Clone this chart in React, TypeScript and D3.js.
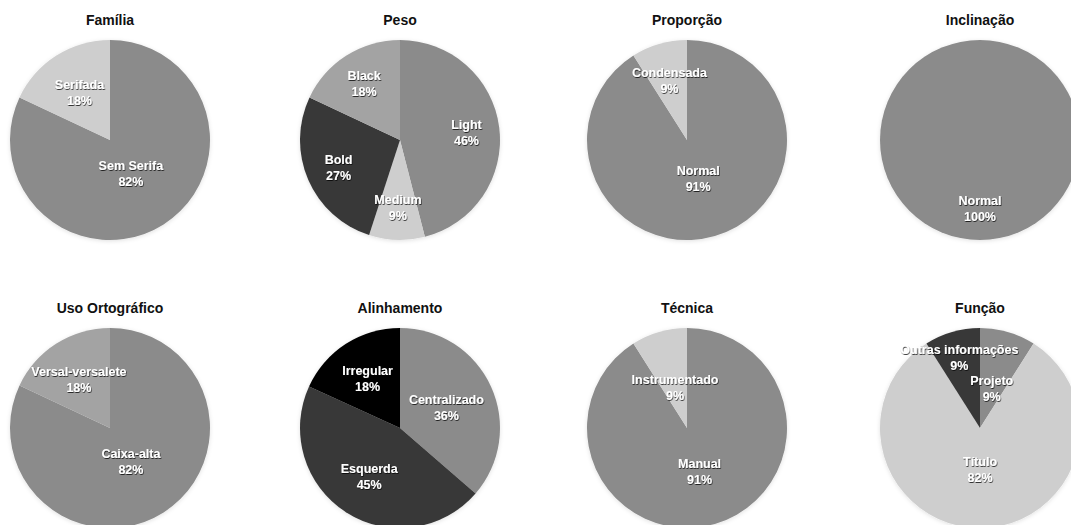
import React from "react";
import * as d3 from "d3";

// ---- Data ----
const familiaLabels = ["Sem Serifa", "Serifada"];
const familiaValues = [82, 18];

const pesoLabels = ["Light", "Medium", "Bold", "Black"];
const pesoValues = [46, 9, 27, 18];

const proporcaoLabels = ["Normal", "Condensada"];
const proporcaoValues = [91, 9];

const inclinacaoLabels = ["Normal"];
const inclinacaoValues = [100];

const usoLabels = ["Caixa-alta", "Versal-versalete"];
const usoValues = [82, 18];

const alinhamentoLabels = ["Centralizado", "Esquerda", "Irregular"];
const alinhamentoValues = [36, 45, 18];

const tecnicaLabels = ["Manual", "Instrumentado"];
const tecnicaValues = [91, 9];

const funcaoLabels = ["Projeto", "Título", "Outras informações"];
const funcaoValues = [9, 82, 9];

const titles = [
  "Família",
  "Peso",
  "Proporção",
  "Inclinação",
  "Uso Ortográfico",
  "Alinhamento",
  "Técnica",
  "Função",
];

// ---- Styles / layout ----
const MID = "#8b8b8b";
const LIGHT = "#cecece";
const SOFT = "#a3a3a3";
const DARK = "#383838";
const BLACK = "#050505";

const chartColors = [
  [MID, LIGHT],
  [MID, LIGHT, DARK, SOFT],
  [MID, LIGHT],
  [MID],
  [MID, SOFT],
  [MID, DARK, BLACK],
  [MID, LIGHT],
  [MID, LIGHT, DARK],
];

const labelRadiusFrac = [
  [0.39, 0.57],
  [0.67, 0.67, 0.67, 0.67],
  [0.4, 0.63],
  [0.68],
  [0.39, 0.58],
  [0.51, 0.57, 0.6],
  [0.45, 0.43],
  [0.42, 0.41, 0.74],
];

const W = 1071;
const H = 525;
const R = 100;
const colX = [110, 400, 687, 980];
const rowY = [140, 428];

const datasets = [
  { labels: familiaLabels, values: familiaValues },
  { labels: pesoLabels, values: pesoValues },
  { labels: proporcaoLabels, values: proporcaoValues },
  { labels: inclinacaoLabels, values: inclinacaoValues },
  { labels: usoLabels, values: usoValues },
  { labels: alinhamentoLabels, values: alinhamentoValues },
  { labels: tecnicaLabels, values: tecnicaValues },
  { labels: funcaoLabels, values: funcaoValues },
];

const FONT = "'Liberation Sans', Arial, Helvetica, sans-serif";

function Pie({ idx }: { idx: number }) {
  const ds = datasets[idx];
  const cx = colX[idx % 4];
  const cy = rowY[Math.floor(idx / 4)];
  const items = ds.labels.map((l, i) => ({ label: l, value: ds.values[i], i }));
  const pie = d3
    .pie<any>()
    .value((d) => d.value)
    .sort(null)
    .startAngle(0)
    .endAngle(2 * Math.PI);
  const arcs = pie(items);
  const arc = d3.arc<any>().innerRadius(0).outerRadius(R);
  return (
    <g>
      <text
        x={cx}
        y={cy - R - 15}
        textAnchor="middle"
        fontFamily={FONT}
        fontWeight="bold"
        fontSize={14}
        fill="#111"
      >
        {titles[idx]}
      </text>
      <g transform={`translate(${cx},${cy})`} filter="url(#pieShadow)">
        {arcs.map((a, i) => (
          <path key={i} d={arc(a) || ""} fill={chartColors[idx][i]} />
        ))}
      </g>
      <g transform={`translate(${cx},${cy})`}>
        {arcs.map((a, i) => {
          const mid = (a.startAngle + a.endAngle) / 2;
          const lr = R * labelRadiusFrac[idx][i];
          const lx = Math.sin(mid) * lr;
          const ly = -Math.cos(mid) * lr;
          const pct = `${a.data.value}%`;
          return (
            <text
              key={i}
              x={lx}
              y={ly}
              textAnchor="middle"
              fontFamily={FONT}
              fontWeight="bold"
              fontSize={12.5}
              fill="#ffffff"
              filter="url(#textShadow)"
            >
              <tspan x={lx} dy={-3}>
                {a.data.label}
              </tspan>
              <tspan x={lx} dy={16}>
                {pct}
              </tspan>
            </text>
          );
        })}
      </g>
    </g>
  );
}

export default function App() {
  return (
    <svg
      width={W}
      height={H}
      style={{ position: "absolute", left: 0, top: 0, background: "#fff" }}
    >
      <defs>
        <filter id="textShadow" x="-20%" y="-40%" width="140%" height="180%">
          <feDropShadow dx="0.6" dy="1" stdDeviation="0.7" floodColor="#000" floodOpacity="0.75" />
        </filter>
        <filter id="pieShadow" x="-10%" y="-10%" width="120%" height="120%">
          <feDropShadow dx="0" dy="1" stdDeviation="2" floodColor="#000" floodOpacity="0.12" />
        </filter>
      </defs>
      {titles.map((_, i) => (
        <Pie key={i} idx={i} />
      ))}
    </svg>
  );
}
